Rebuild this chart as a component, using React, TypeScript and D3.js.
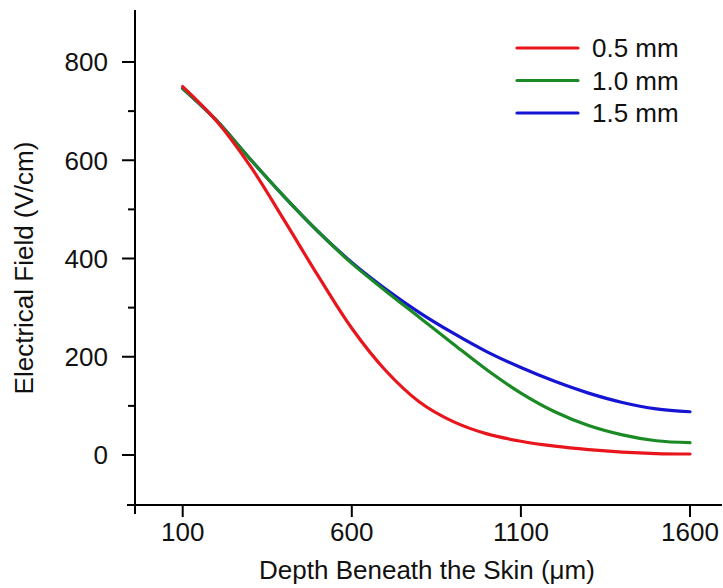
import React from "react";
import * as d3 from "d3";

const depth = [100, 200, 300, 400, 500, 600, 700, 800, 900, 1000, 1100, 1200, 1300, 1400, 1500, 1600];
const field05 = [750, 680, 588, 478, 365, 258, 172, 108, 68, 43, 28, 18, 11, 6, 3, 2];
const field10 = [746, 681, 602, 526, 455, 390, 334, 280, 226, 173, 126, 88, 60, 41, 29, 25];
const field15 = [746, 681, 602, 526, 455, 392, 338, 290, 248, 210, 178, 150, 126, 107, 94, 88];
const seriesNames = ["0.5 mm", "1.0 mm", "1.5 mm"];
const seriesColors = ["#e8161c", "#1a8a24", "#1414d2"];
const xTicks = [100, 600, 1100, 1600];
const yTicks = [0, 200, 400, 600, 800];
const yMinor = [100, 300, 500, 700];

const FONT = "Arial, 'Liberation Sans', sans-serif";

export default function App() {
  const x = d3.scaleLinear().domain([100, 1600]).range([182.7, 690]);
  const y = d3.scaleLinear().domain([0, 800]).range([455, 62]);
  const axX = 135;
  const axY = 505;
  const line = d3
    .line<number>()
    .x((_, i) => x(depth[i]))
    .y((d) => y(d))
    .curve(d3.curveCatmullRom.alpha(0.5));
  const all = [field05, field10, field15];
  return (
    <svg
      width={723}
      height={588}
      style={{ position: "absolute", left: 0, top: 0, background: "#fff" }}
      fontFamily={FONT}
    >
      <rect width={723} height={588} fill="#fff" />
      <line x1={axX} x2={axX} y1={10} y2={514} stroke="#000" strokeWidth={2} />
      <line x1={127} x2={722} y1={axY} y2={axY} stroke="#000" strokeWidth={2} />
      {yTicks.map((t) => (
        <g key={"y" + t}>
          <line x1={axX - 13} x2={axX} y1={y(t)} y2={y(t)} stroke="#000" strokeWidth={2} />
          <text x={108} y={y(t)} dy="0.36em" textAnchor="end" fontSize={26} fill="#111">
            {t}
          </text>
        </g>
      ))}
      {yMinor.map((t) => (
        <line key={"m" + t} x1={axX - 7} x2={axX} y1={y(t)} y2={y(t)} stroke="#000" strokeWidth={2} />
      ))}
      {xTicks.map((t) => (
        <g key={"x" + t}>
          <line x1={x(t)} x2={x(t)} y1={axY} y2={axY + 12} stroke="#000" strokeWidth={2} />
          <text x={x(t)} y={541} textAnchor="middle" fontSize={26} fill="#111">
            {t}
          </text>
        </g>
      ))}
      <text x={427} y={579} textAnchor="middle" fontSize={26} fill="#111">
        Depth Beneath the Skin (μm)
      </text>
      <text transform={`translate(33, 268) rotate(-90)`} textAnchor="middle" fontSize={26} fill="#111">
        Electrical Field (V/cm)
      </text>
      {all
        .slice()
        .reverse()
        .map((s, ri) => {
          const i = all.length - 1 - ri;
          return (
            <path
              key={i}
              d={line(s) || ""}
              fill="none"
              stroke={seriesColors[i]}
              strokeWidth={3.2}
              strokeLinecap="round"
            />
          );
        })}
      {seriesNames.map((n, i) => (
        <g key={n} transform={`translate(517, ${48 + i * 32.5})`}>
          <line x1={0} x2={61} y1={0} y2={0} stroke={seriesColors[i]} strokeWidth={3.2} strokeLinecap="round" />
          <text x={75} y={0} dy="0.36em" fontSize={26} fill="#111">
            {n}
          </text>
        </g>
      ))}
    </svg>
  );
}
